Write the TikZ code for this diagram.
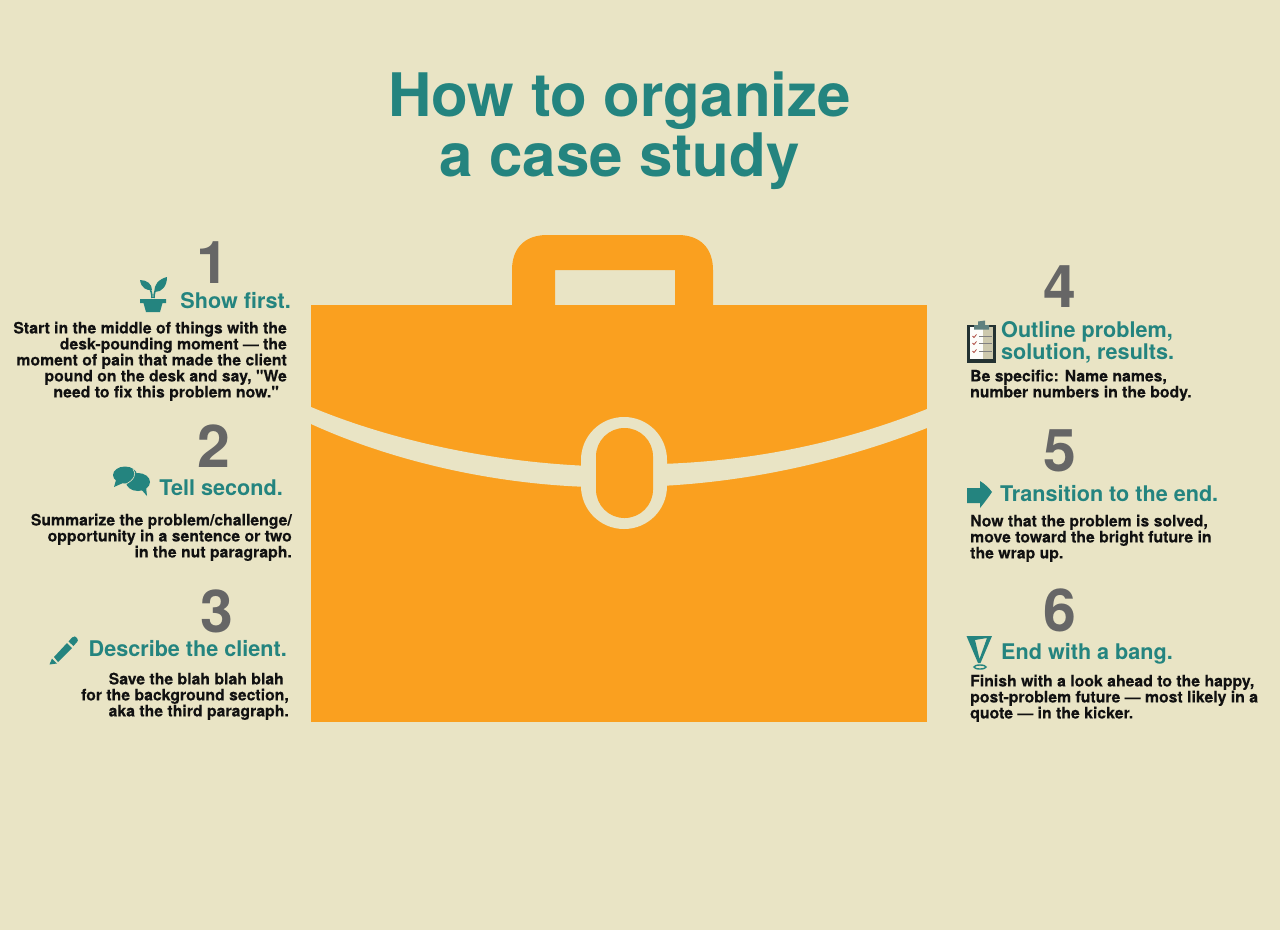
\documentclass[tikz,border=0pt]{standalone}
\usepackage{fontspec}
\newfontfamily\hvfont{TeX Gyre Heros}[BoldFeatures={FakeBold=0.2}]
\newfontfamily\hvplain{TeX Gyre Heros}
\definecolor{bgc}{HTML}{E9E4C5}
\definecolor{bagc}{HTML}{FAA01F}
\definecolor{tealc}{HTML}{24847F}
\definecolor{greyc}{HTML}{666666}
\definecolor{inkc}{HTML}{111111}
\definecolor{boardc}{HTML}{243232}
\tikzset{
  x=1pt,y=-1pt,
  titletext/.style={font=\hvplain\fontsize{60}{60}\selectfont\bfseries,text=tealc,align=center,inner sep=0pt},
  numtext/.style={font=\hvplain\fontsize{59}{59}\selectfont\bfseries,text=greyc,inner sep=0pt},
  headtext/.style={font=\hvplain\fontsize{21.6}{22}\selectfont\bfseries,text=tealc,inner sep=0pt},
  bodyr/.style={font=\hvfont\fontsize{15.8}{16}\selectfont\bfseries,text=inkc,align=right,anchor=north east,inner sep=0pt},
  bodyl/.style={font=\hvfont\fontsize{15.8}{16}\selectfont\bfseries,text=inkc,align=left,anchor=north west,inner sep=0pt},
}
\begin{document}
\begin{tikzpicture}
\useasboundingbox (0,0) rectangle (1280,930);
\fill[bgc] (0,0) rectangle (1280,930);
% bag
\fill[bagc,even odd rule] (512,310) -- (512,270) .. controls (512,248) and (525,235) .. (547,235) -- (678,235) .. controls (700,235) and (713,248) .. (713,270) -- (713,310) -- (675,310) -- (675,270) -- (555,270) -- (555,310) -- cycle;
\fill[bagc] (311,305) rectangle (927,722);
\fill[bgc] (311,407) .. controls (390,440) and (490,462) .. (590,466) -- (590,487) .. controls (490,484) and (390,460) .. (311,424) -- cycle;
\fill[bgc] (660,464) .. controls (760,461) and (850,440) .. (927,409) -- (927,428) .. controls (850,458) and (760,481) .. (660,486) -- cycle;
\fill[bgc,rounded corners=42.9pt] (581,417) rectangle (667,529);
\fill[bagc,rounded corners=28.4pt] (596,428) rectangle (653,518);
% title
\node[titletext] (title) at (619.5,131) {How to organize\\a case study};
% numbers
\node[numtext] (n1) at (213,263) {1};
\node[numtext] (n2) at (213.5,446) {2};
\node[numtext] (n3) at (216.5,611) {3};
\node[numtext] (n4) at (1060,287) {4};
\node[numtext] (n5) at (1060,451) {5};
\node[numtext] (n6) at (1059.5,610) {6};
% heads
\node[headtext,anchor=east] (h1) at (291,301) {Show first.};
\node[headtext,anchor=east] (h2) at (283,487.5) {Tell second.};
\node[headtext,anchor=east] (h3) at (287,649) {Describe the client.};
\node[headtext,anchor=west,align=left] (h4) at (1001,342) {Outline problem,\\solution, results.};
\node[headtext,anchor=west] (h5) at (1000,494) {Transition to the end.};
\node[headtext,anchor=west] (h6) at (1001,653.5) {End with a bang.};
% body
\node[bodyr] (b1) at (287,321.5) {Start in the middle of things with the\\desk-pounding moment — the\\moment of pain that made the client\\pound on the desk and say, "We\\need to fix this problem now."\hspace*{8pt}};
\node[bodyr] (b2) at (292,513.5) {Summarize the problem/challenge/\\opportunity in a sentence or two\hspace*{5pt}\\in the nut paragraph.};
\node[bodyr] (b3) at (289,672.5) {Save the blah blah blah\hspace*{5pt}\\for the background section,\hspace*{4pt}\\aka the third paragraph.};
\node[bodyl] (b4) at (970,369.5) {Be specific: Name names,\\number numbers in the body.};
\node[bodyl] (b5) at (970,514.5) {Now that the problem is solved,\\move toward the bright future in\\the wrap up.};
\node[bodyl] (b6) at (970,674.5) {Finish with a look ahead to the happy,\\post-problem future — most likely in a\\quote — in the kicker.};
% plant icon
\fill[tealc] (140,299) -- (166,299) -- (166,303) -- (162.5,303) -- (160,312) -- (146,312) -- (143.5,303) -- (140,303) -- cycle;
\fill[tealc] (140,280) .. controls (147,280) and (152,284) .. (152,290) .. controls (147,291) and (141,288) .. (140,280) -- cycle;
\fill[tealc] (167,277) .. controls (167,286) and (162,292) .. (155,292) .. controls (153,285) and (159,279) .. (167,277) -- cycle;
\draw[tealc,line width=1.6pt] (152,298) .. controls (152,293) and (151,291) .. (149,287);
\draw[tealc,line width=1.6pt] (154,298) .. controls (154,293) and (155,290) .. (158,286);
% speech bubbles icon
\fill[tealc] (125,475) ellipse[x radius=12,y radius=8.5];
\fill[tealc] (116,480) -- (114,487) -- (123,483) -- cycle;
\fill[tealc] (138,482) ellipse[x radius=12,y radius=9];
\fill[tealc] (140,488) -- (147,496) -- (146,487) -- cycle;
\draw[bgc,line width=.6pt] (133,469) .. controls (137,474) and (134,480) .. (126,484);
% pencil icon
\fill[tealc] (54,657) -- (58,662) -- (72,648) -- (67,643) -- cycle;
\fill[tealc] (68.5,641.5) -- (72,637.5) .. controls (74,636) and (76,636) .. (77,638) .. controls (78.5,640) and (78,641) .. (77,642) -- (73.5,646) -- cycle;
\fill[tealc] (52,658.5) -- (57,663.5) -- (49.5,664.5) -- cycle;
% clipboard icon
\fill[boardc] (967,325) rectangle (996,363);
\fill[white!92!bgc] (970,327) rectangle (983,359);
\fill[black!12!bgc] (983,327) rectangle (993,359);
\fill[tealc!35!gray] (974,325) -- (978,325) -- (978,321.5) -- (985,320.5) -- (985,325) -- (989,325) -- (989,329.5) -- (974,329.5) -- cycle;
\foreach \yy in {336,343,351}{
  \draw[red!55!bgc!70!black,line width=.8pt] (972.5,\yy) -- (974,\yy+1.5) -- (976.5,\yy-1.5);
  \draw[gray,line width=.8pt] (979,\yy) -- (992,\yy);
}
% arrow icon
\fill[tealc] (967,488) -- (980,488) -- (980,481) .. controls (985,484) and (989,488) .. (992,492) .. controls (988,498) and (984,503) .. (980,508) -- (980,503) -- (967,503) -- cycle;
% exclamation icon
\fill[tealc,even odd rule] (966.5,636) -- (992,636) -- (980.5,663) -- (978,663) -- cycle
  (975,640) -- (987,638) -- (979.5,659) -- cycle;
\draw[tealc,line width=1.4pt] (980,667) ellipse[x radius=6,y radius=2];
\end{tikzpicture}
\end{document}
